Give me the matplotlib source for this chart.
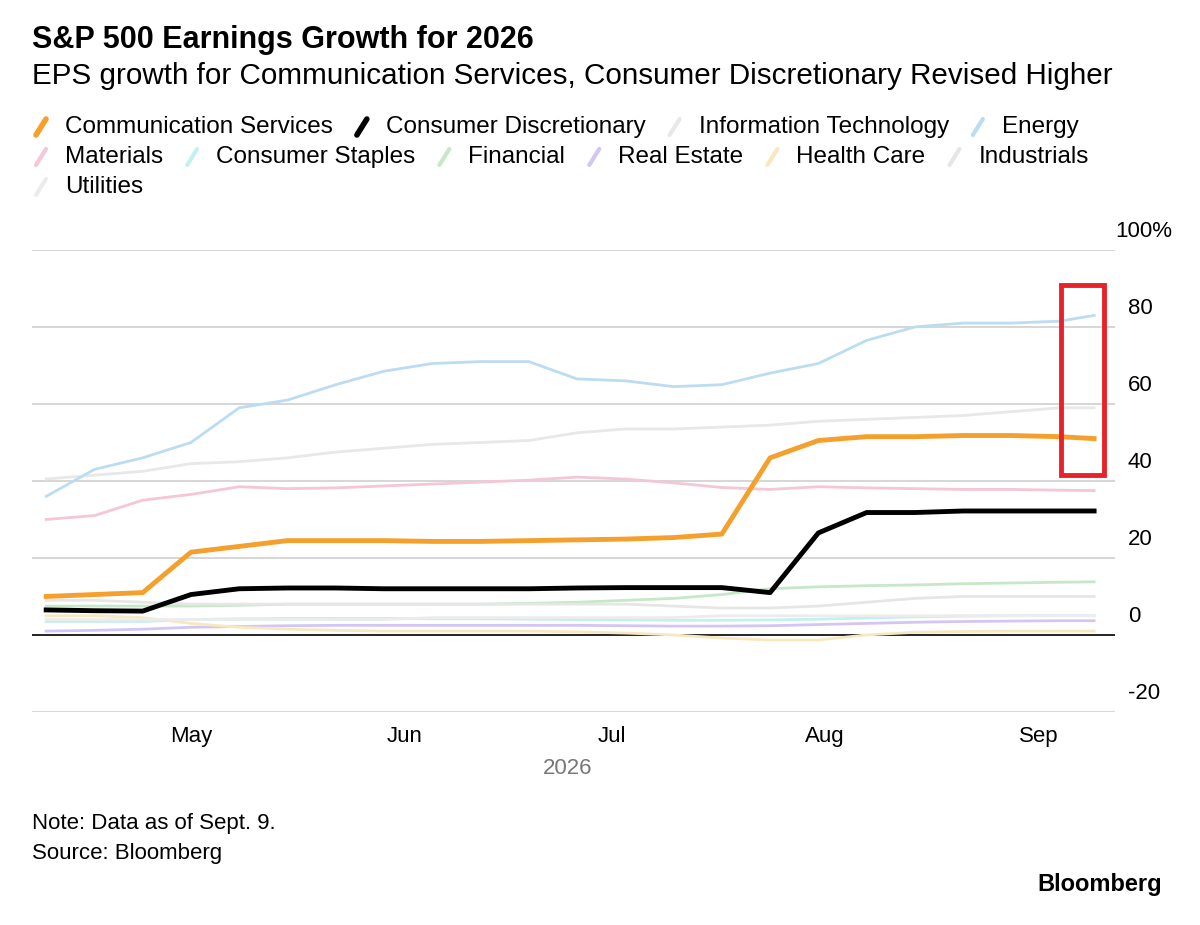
import matplotlib
matplotlib.use("Agg")
import matplotlib.pyplot as plt
import matplotlib.dates as mdates
import numpy as np
from matplotlib.patches import Rectangle
from matplotlib.lines import Line2D

plt.rcParams['font.family'] = ['Liberation Sans', 'DejaVu Sans']

dates = np.array(['2026-04-10','2026-04-17','2026-04-24','2026-05-01','2026-05-08','2026-05-15',
                  '2026-05-22','2026-05-29','2026-06-05','2026-06-12','2026-06-19','2026-06-26',
                  '2026-07-03','2026-07-10','2026-07-17','2026-07-24','2026-07-31','2026-08-07',
                  '2026-08-14','2026-08-21','2026-08-28','2026-09-04','2026-09-09'], dtype='datetime64[D]')

comm = [10,10.5,11,21.5,23,24.5,24.5,24.5,24.3,24.3,24.5,24.7,24.9,25.3,26.2,46,50.5,51.5,51.5,51.8,51.8,51.5,51]
disc = [6.5,6.3,6.2,10.5,12,12.2,12.2,12,12,12,12,12.2,12.3,12.3,12.3,11,26.5,31.8,31.8,32.2,32.2,32.2,32.2]
it = [40.5,41.5,42.5,44.5,45,46,47.5,48.5,49.5,50,50.5,52.5,53.5,53.5,54,54.5,55.5,56,56.5,57,58,59,59]
energy = [36,43,46,50,59,61,65,68.5,70.5,71,71,66.5,66,64.5,65,68,70.5,76.5,80,81,81,81.5,83]
materials = [30,31,35,36.5,38.5,38,38.2,38.7,39.2,39.7,40.2,41,40.5,39.5,38.3,37.8,38.5,38.2,38,37.8,37.8,37.6,37.5]
staples = [3.5,3.5,3.5,4,4.2,4.3,4.3,4.3,4.2,4.2,4.1,4,3.9,3.8,3.8,3.9,4.1,4.4,4.7,4.9,5,5,5]
financial = [7.5,7.5,7.5,7.5,7.7,8,8,8,8,8,8.2,8.5,9,9.5,10.5,12,12.5,12.8,13,13.3,13.5,13.7,13.8]
realestate = [1,1.2,1.5,2,2.2,2.4,2.5,2.5,2.5,2.5,2.5,2.5,2.4,2.3,2.3,2.4,2.7,3,3.3,3.5,3.6,3.7,3.7]
health = [5,5,4.5,3,2,1.5,1.2,1,1,1,1,0.8,0.5,0,-0.8,-1.3,-1.3,0,0.7,0.9,1,1,1]
industrials = [9,9,8.5,8,8,8,8,8,8,8,8,8,8,7.5,7,7,7.5,8.5,9.5,10,10,10,10]
utilities = [4,4,4,4,4,4,4,4,4.5,4.5,4.5,4.5,4.5,4.5,5,5,5,5,5,5,5,5,5]

series = [
    ("Communication Services", comm, "#f5a02c", 3.5, 10),
    ("Consumer Discretionary", disc, "#000000", 3.5, 10),
    ("Information Technology", it, "#e8e8e8", 2, 3),
    ("Energy", energy, "#bcdcf2", 2, 3),
    ("Materials", materials, "#f4c6d6", 2, 3),
    ("Consumer Staples", staples, "#c4f0f0", 2, 3),
    ("Financial", financial, "#c6e8c8", 2, 3),
    ("Real Estate", realestate, "#d4c6f4", 2, 3),
    ("Health Care", health, "#f8e8c0", 2, 3),
    ("Industrials", industrials, "#e6e6e6", 2, 3),
    ("Utilities", utilities, "#ececec", 2, 3),
]

fig = plt.figure(figsize=(12, 9.25), dpi=100)
ax = fig.add_axes([0.027, 0.2303, 0.902, 0.4995])
ax.set_ylim(-20, 100)
ax.set_xlim(np.datetime64('2026-04-08'), np.datetime64('2026-09-12'))
for v in [-20, 0, 20, 40, 60, 80, 100]:
    ax.axhline(v, color="#d0d0d0" if v != 0 else "#000000", lw=1.2, zorder=1 if v else 2)
for name, vals, c, lw, z in series:
    ax.plot(dates, vals, color=c, lw=lw, zorder=z)

for s in ax.spines.values():
    s.set_visible(False)
ax.set_yticks([])
ax.xaxis.set_major_locator(mdates.MonthLocator(bymonth=[5,6,7,8,9]))
ax.xaxis.set_major_formatter(mdates.DateFormatter('%b'))
ax.tick_params(axis='x', length=0, labelsize=16, pad=10)
for v in [-20, 0, 20, 40, 60, 80, 100]:
    lab = "100%" if v == 100 else str(v)
    ax.text(1.0 if v == 100 else 1.012, v + 2.0, lab, transform=ax.get_yaxis_transform(),
            ha='left', va='bottom', fontsize=16)
fig.text(568/1200, 1-768/925, "2026", ha='center', va='center', fontsize=16, color="#777777")

ax.add_patch(Rectangle((mdates.date2num(np.datetime64('2026-09-04')) + 0.2, 41.5), 6.3, 49.5,
                       fill=False, edgecolor="#e8222a", lw=3.5, clip_on=False, zorder=20))

fig.text(32/1200, 1-40/925, "S&P 500 Earnings Growth for 2026", fontsize=22, fontweight='bold', va='center')
fig.text(32/1200, 1-76/925, "EPS growth for Communication Services, Consumer Discretionary Revised Higher",
         fontsize=21.3, va='center')

rows = [series[0:4], series[4:10], series[10:]]
ystarts = [127, 157, 187]
for row, yy in zip(rows, ystarts):
    x = 36
    for name, _, c, _, z in row:
        fig.add_artist(Line2D([x/1200, (x+10)/1200], [1-(yy+8)/925, 1-(yy-8)/925], color=c, lw=4 if z == 10 else 3,
                              transform=fig.transFigure, solid_capstyle='round'))
        t = fig.text((x+29)/1200, 1-yy/925, name, fontsize=17.5, va='center')
        fig.canvas.draw()
        bb = t.get_window_extent()
        x = bb.x1 + 24

fig.text(32/1200, 1-824/925, "Note: Data as of Sept. 9.", fontsize=16, va='center')
fig.text(32/1200, 1-853/925, "Source: Bloomberg", fontsize=16, va='center')
fig.text(1162/1200, 1-884/925, "Bloomberg", fontsize=17, fontweight='bold', ha='right', va='center')

fig.savefig("out.png", dpi=100)
